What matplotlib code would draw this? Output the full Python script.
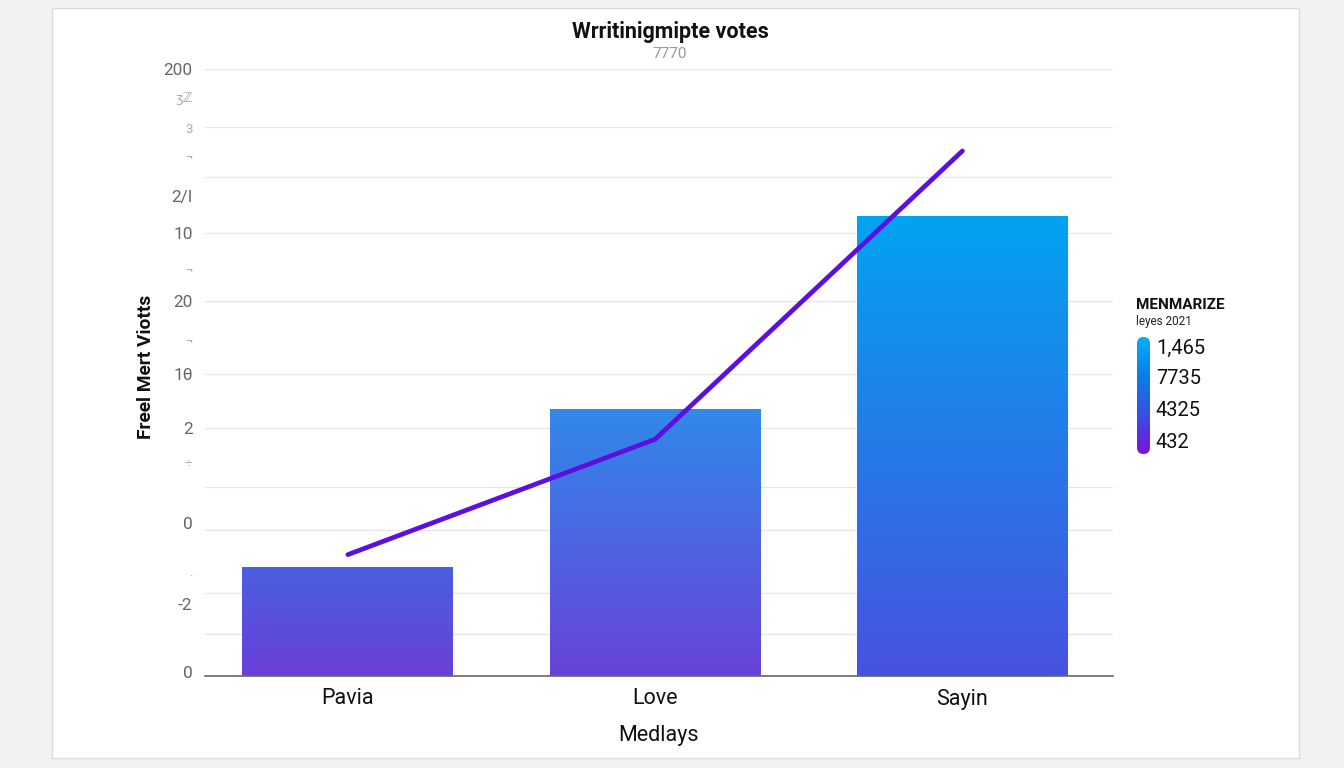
import numpy as np
import matplotlib
matplotlib.use("Agg")
import matplotlib.pyplot as plt
from matplotlib.colors import LinearSegmentedColormap
from matplotlib.patches import FancyBboxPatch, Rectangle

plt.rcParams['font.family'] = ['Roboto', 'DejaVu Sans']

# ---- data ----
categories = ["Pavia", "Love", "Sayin"]
bar_values = [36, 88, 151.5]
line_values = [40, 78, 173]
bar_top_colors = ["#4a5fe0", "#3189e9", "#02a3f1"]
bar_bottom_colors = ["#6a3fd8", "#6942d9", "#4852e0"]
grid_values = [200, 180.9, 164.4, 146.0, 123.6, 99.5, 81.7, 62.3, 48.1, 27.3, 13.8, 0]
tick_values = [200, 190.8, 180.6, 171.0, 158.2, 146.0, 133.8, 123.6, 110.4, 99.5, 81.7, 70.5, 50.4, 33.3, 23.7, 1.3]
tick_labels = ["200", "ʒℤ", "3", "¬", "2/I", "10", "¬", "20", "¬", "1θ", "2", "÷", "0", "·", "-2", "0"]
tick_faint = [False, True, True, True, False, False, True, False, True, False, False, True, False, True, False, False]
legend_labels = ["1,465", "7735", "4325", "432"]

W, H = 1344, 768
fig = plt.figure(figsize=(W / 100, H / 100), dpi=100, facecolor="#f2f2f2")

# card
card = Rectangle((52 / W, 1 - 758 / H), (1299 - 52) / W, (758 - 8) / H,
                 transform=fig.transFigure, facecolor="white", edgecolor="#dcdcdc",
                 linewidth=1.0, zorder=-10)
fig.patches.append(card)

ax = fig.add_axes([205 / W, 1 - 676 / H, (1113 - 205) / W, (676 - 69) / H])
ax.set_facecolor("none")
x = np.arange(len(categories))
ax.yaxis.remove_overlapping_locs = False

# grid via minor ticks
ax.set_yticks(grid_values, minor=True)
ax.grid(True, which="minor", axis="y", color="#e6e6e6", linewidth=0.9)
ax.tick_params(axis="y", which="minor", length=0)
ax.set_yticks(tick_values)
ax.set_yticklabels(tick_labels)
for lbl, faint in zip(ax.get_yticklabels(), tick_faint):
    if faint:
        lbl.set_color("#aaaaaa")
        lbl.set_fontsize(9.5)
    else:
        lbl.set_color("#666666")
        lbl.set_fontsize(12.4)
ax.tick_params(axis="y", which="major", length=0, pad=9)

for s in ["top", "right", "left"]:
    ax.spines[s].set_visible(False)
ax.spines["bottom"].set_color("#666666")
ax.spines["bottom"].set_linewidth(1.2)

ax.set_xticks(x)
ax.set_xticklabels(categories, fontsize=15.5, color="#111111")
ax.tick_params(axis="x", length=0, pad=9)
ax.set_xlabel("Medlays", fontsize=15.5, color="#111111", labelpad=11)
ax.set_ylabel("Freel Mert Viotts", fontsize=13.8, fontweight="bold", color="#111111")
ax.yaxis.set_label_coords(-0.055, 0.51)

# gradient bars
bars = ax.bar(x, bar_values, width=0.686, facecolor="none", edgecolor="none", zorder=2)
for b, ct, cb in zip(bars, bar_top_colors, bar_bottom_colors):
    cmap = LinearSegmentedColormap.from_list("g", [cb, ct])
    grad = np.linspace(0, 1, 256).reshape(-1, 1)
    x0, y0 = b.get_x(), b.get_y()
    im = ax.imshow(grad, cmap=cmap, origin="lower", aspect="auto",
                   extent=(x0, x0 + b.get_width(), y0, y0 + b.get_height()), zorder=2)
    im.set_clip_path(b)
ax.set_xlim(-0.465, 2.49)
ax.set_ylim(0, 200)

ax.plot(x, line_values, color="#5c0fe0", linewidth=3.4, solid_capstyle="round",
        solid_joinstyle="round", zorder=3)

# title
fig.text(670 / W, 1 - 32 / H, "Wrritinigmipte votes", ha="center", va="center",
         fontsize=15.5, fontweight="bold", color="#111111")
fig.text(670 / W, 1 - 54 / H, "7770", ha="center", va="center", fontsize=11, color="#999999")

# legend
fig.text(1136 / W, 1 - 305 / H, "MENMARIZE", ha="left", va="center", fontsize=11,
         fontweight="bold", color="#111111")
fig.text(1136 / W, 1 - 321 / H, "leyes 2021", ha="left", va="center", fontsize=8.5, color="#222222")
lw_px, lh_px = 13, 117
lax = fig.add_axes([1137 / W, 1 - 454 / H, lw_px / W, lh_px / H])
lax.set_axis_off()
lax.set_xlim(0, lw_px)
lax.set_ylim(0, lh_px)
lcmap = LinearSegmentedColormap.from_list("l", ["#7a10e0", "#3a4fe0", "#0a7ee8", "#05b0f5"])
lim = lax.imshow(np.linspace(0, 1, 256).reshape(-1, 1), cmap=lcmap, origin="lower",
                 aspect="auto", extent=(0, lw_px, 0, lh_px))
pill = FancyBboxPatch((0, 0), lw_px, lh_px, boxstyle="round,pad=0,rounding_size=6.5",
                      transform=lax.transData, facecolor="none", edgecolor="none")
lax.add_patch(pill)
lim.set_clip_path(pill)
for lab, py in zip(legend_labels, [348, 378, 410, 442]):
    fig.text(1156 / W, 1 - py / H, lab, ha="left", va="center", fontsize=14.5, color="#111111")

fig.savefig("out.png", dpi=100, facecolor=fig.get_facecolor())
